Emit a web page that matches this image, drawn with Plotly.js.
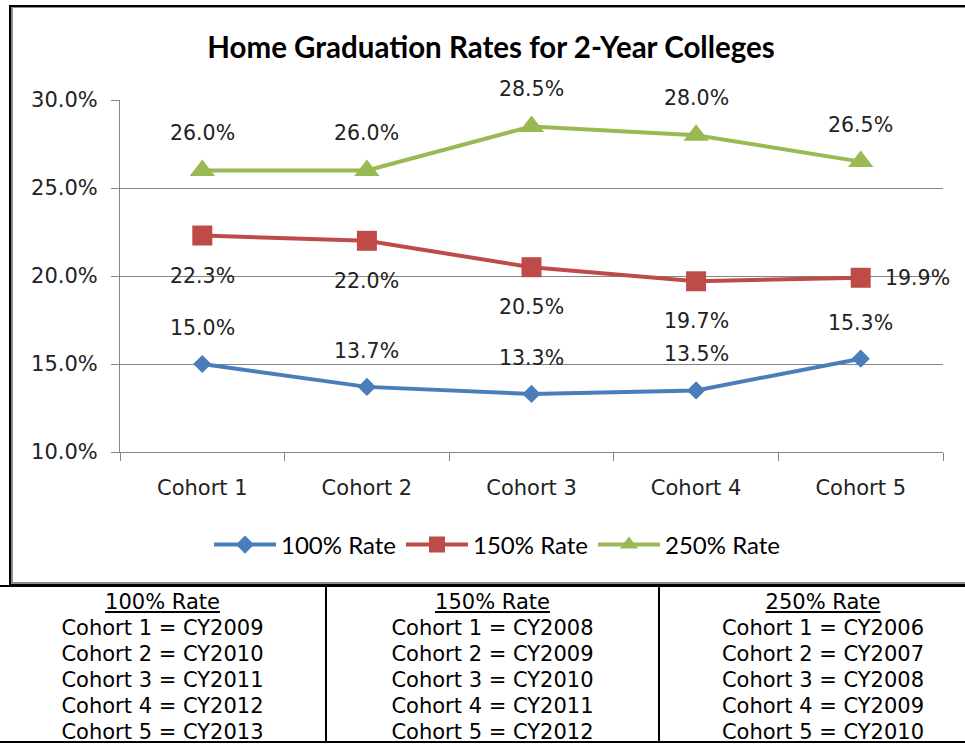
<!DOCTYPE html>
<html>
<head>
<meta charset="utf-8">
<script src="https://cdn.plot.ly/plotly-3.0.1.min.js"></script>
<style>
  html, body { margin:0; padding:0; background:#fff; overflow:hidden; width:965px; height:744px; }
  #chart { position:absolute; left:0; top:0; width:965px; height:585px; }
  .frame { position:absolute; pointer-events:none; }
  #tbl { position:absolute; left:0; top:585px; width:990px; height:158px; border-top:2px solid #000; border-bottom:2px solid #000; box-sizing:border-box; display:flex; font-family:"DejaVu Sans", Verdana, sans-serif; font-size:21px; color:#000; }
  .col { box-sizing:border-box; text-align:center; line-height:26px; padding-top:2px; }
  .col + .col { border-left:2px solid #000; }
  .hd { text-decoration:underline; }
</style>
</head>
<body>
<div id="chart"></div>
<div class="frame" style="left:9px; top:5px; width:980px; height:580px; border-left:2px solid #000; border-top:2px solid #000; border-bottom:2px solid #000; box-sizing:border-box;"></div>
<div class="frame" style="left:11px; top:7px; width:980px; height:577px; border-left:2px solid #8c8c8c; border-top:1px solid #8c8c8c; border-bottom:2px solid #8c8c8c; box-sizing:border-box;"></div>
<div id="tbl"></div>
<script>
// ---- data ----
const categories = ["Cohort 1", "Cohort 2", "Cohort 3", "Cohort 4", "Cohort 5"];
const seriesNames = ["100% Rate", "150% Rate", "250% Rate"];
const rate100 = [15.0, 13.7, 13.3, 13.5, 15.3];
const rate150 = [22.3, 22.0, 20.5, 19.7, 19.9];
const rate250 = [26.0, 26.0, 28.5, 28.0, 26.5];
const yTickVals = [10, 15, 20, 25, 30];
const chartTitle = "Home Graduation Rates for 2-Year Colleges";
const years100 = ["CY2009", "CY2010", "CY2011", "CY2012", "CY2013"];
const years150 = ["CY2008", "CY2009", "CY2010", "CY2011", "CY2012"];
const years250 = ["CY2006", "CY2007", "CY2008", "CY2009", "CY2010"];

// ---- styles ----
const colors = ["#4A7EBB", "#BE4B48", "#98B954"];
const symbols = ["diamond", "square", "triangle-up"];
const msizes = [14, 20, 22];
const labelFont = { family: "DejaVu Sans, Verdana, sans-serif", size: 20.5, color: "#222" };
// label placement for each series: [xshift, yshift, xanchor]
const labelPlace = [
  () => [0, 36, "center"],
  (i) => i === 4 ? [22, 0, "left"] : [0, -40, "center"],
  () => [0, 37, "center"]
];

const allValues = [rate100, rate150, rate250];
const traces = allValues.map((vals, s) => ({
  type: "scatter",
  mode: "lines+markers",
  name: seriesNames[s],
  x: categories,
  y: vals,
  line: { color: colors[s], width: 4 },
  marker: { symbol: symbols[s], size: msizes[s], color: colors[s] },
  hoverinfo: "skip"
}));

const annotations = [];
allValues.forEach((vals, s) => {
  vals.forEach((v, i) => {
    const [xs, ys, xa] = labelPlace[s](i);
    annotations.push({
      x: categories[i], y: v, xref: "x", yref: "y",
      text: v.toFixed(1) + "%", showarrow: false,
      xshift: xs, yshift: ys, xanchor: xa, yanchor: "middle",
      font: labelFont
    });
  });
});

const layout = {
  width: 965, height: 585,
  margin: { l: 120, r: 22, t: 100, b: 133 },
  paper_bgcolor: "rgba(0,0,0,0)", plot_bgcolor: "#fff",
  title: {
    text: "<b>" + chartTitle + "</b>",
    x: 491 / 965, xref: "container", xanchor: "center",
    y: 1 - 48 / 585, yref: "container", yanchor: "middle",
    font: { family: "Lato, Carlito, sans-serif", size: 29.5, color: "#000" }
  },
  xaxis: {
    type: "category", range: [-0.5, 4.5],
    showline: true, linecolor: "#868686", linewidth: 1,
    ticks: "outside", tickson: "boundaries", ticklen: 8, tickcolor: "#868686",
    showgrid: false, zeroline: false,
    tickfont: { family: "DejaVu Sans, Verdana, sans-serif", size: 21, color: "#222" },
    ticklabelstandoff: 17
  },
  yaxis: {
    range: [10, 30], tickvals: yTickVals, ticktext: yTickVals.map(v => v.toFixed(1) + "%"),
    showline: true, linecolor: "#868686", linewidth: 1,
    ticks: "outside", ticklen: 8, tickcolor: "#868686",
    showgrid: true, gridcolor: "#868686", gridwidth: 1, zeroline: false,
    tickfont: { family: "DejaVu Sans, Verdana, sans-serif", size: 21, color: "#222" },
    ticklabelstandoff: 9
  },
  showlegend: true,
  legend: {
    orientation: "h", x: 497 / 965, xref: "container", xanchor: "center",
    y: 1 - 545 / 585, yref: "container", yanchor: "middle",
    font: { family: "Lato, Carlito, sans-serif", size: 24, color: "#000" },
    bgcolor: "rgba(0,0,0,0)", itemwidth: 62, traceorder: "normal"
  },
  annotations: annotations
};

Plotly.newPlot("chart", traces, layout, { staticPlot: true, displayModeBar: false });

// ---- table ----
const tableCols = [
  { head: seriesNames[0], years: years100, width: 325 },
  { head: seriesNames[1], years: years150, width: 333 },
  { head: seriesNames[2], years: years250, width: 328 }
];
const tbl = document.getElementById("tbl");
tableCols.forEach(c => {
  const d = document.createElement("div");
  d.className = "col";
  d.style.width = c.width + "px";
  const h = document.createElement("div");
  h.className = "hd"; h.textContent = c.head; d.appendChild(h);
  c.years.forEach((y, i) => {
    const r = document.createElement("div");
    r.textContent = categories[i] + " = " + y;
    d.appendChild(r);
  });
  tbl.appendChild(d);
});
</script>
</body>
</html>
